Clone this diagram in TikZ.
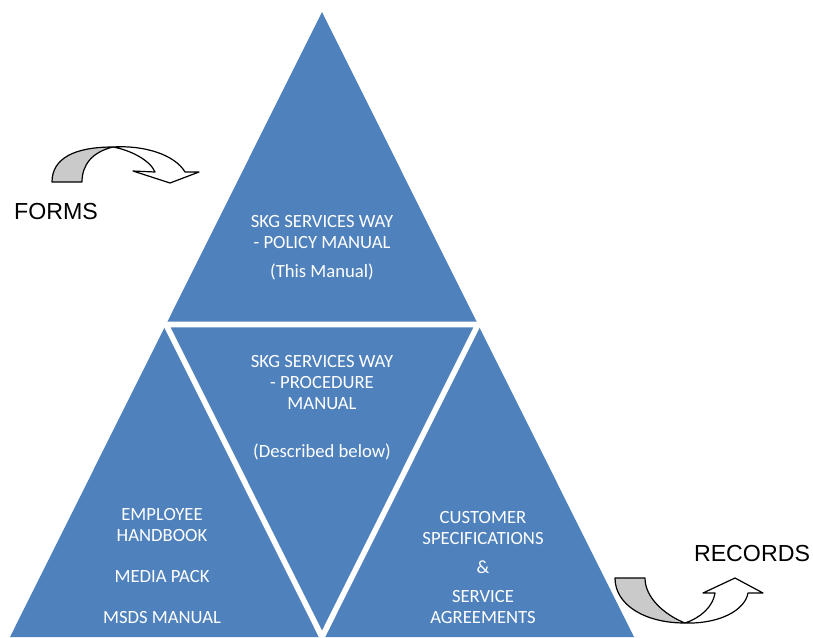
\documentclass[tikz,border=0pt]{standalone}
\usepackage{fontspec}
\setmainfont{Carlito}
\newfontfamily\labelfont{Liberation Sans}
\usetikzlibrary{calc}
\definecolor{triblue}{HTML}{4F81BD}
\definecolor{ribbongray}{HTML}{CACACA}
\begin{document}
\begin{tikzpicture}[x=0.75pt,y=-0.75pt,
  tritext/.style={text=white, align=center, inner sep=0pt,
    font=\fontsize{14}{15.75}\selectfont},
  sidelabel/.style={text=black, inner sep=0pt,
    font=\labelfont\fontsize{17.4}{20}\selectfont},
  ribbon/.style={draw=black, line width=0.9pt, line join=round}]
\useasboundingbox (0,0) rectangle (813,637);

% outer triangle and its subdivision
\coordinate (apex) at (322,12);
\coordinate (bl) at (10,637);
\coordinate (br) at (634,637);
\coordinate (ml) at ($(apex)!0.5!(bl)$);
\coordinate (mr) at ($(apex)!0.5!(br)$);
\coordinate (mb) at ($(bl)!0.5!(br)$);
\fill[triblue] (apex) -- (bl) -- (br) -- cycle;
\draw[white, line width=4.2pt, line join=miter] (ml) -- (mr) -- (mb) -- cycle;

% texts inside the four triangles
\node[tritext] (toptext) at (322,247.5)
  {SKG SERVICES WAY\\- POLICY MANUAL\\[6pt](This Manual)};
\node[tritext] (midtext) at (322,407.5)
  {SKG SERVICES WAY\\- PROCEDURE\\MANUAL\\[20pt](Described below)};
\node[tritext] (lefttext) at (162,566)
  {EMPLOYEE\\HANDBOOK\\[15pt]MEDIA PACK\\[15pt]MSDS MANUAL};
\node[tritext] (righttext) at (483,567)
  {CUSTOMER\\SPECIFICATIONS\\[6pt]\&\\[6pt]SERVICE\\AGREEMENTS};

% curved arrow beside FORMS
\filldraw[ribbon, fill=ribbongray]
  (52,182) .. controls (52,158) and (75,147) .. (113,147)
  .. controls (92,152) and (82,165) .. (82,182) -- cycle;
\filldraw[ribbon, fill=white]
  (113,147) .. controls (145,145) and (175,155) .. (185,172)
  -- (199,172) -- (170,183) -- (133,171) -- (155,172)
  .. controls (150,160) and (130,150) .. (113,147) -- cycle;
\node[sidelabel] (forms) at (56,212) {FORMS};

% curved arrow beside RECORDS
\filldraw[ribbon, fill=ribbongray]
  (615,578) -- (645,578)
  .. controls (645,598) and (665,615) .. (685,623)
  .. controls (645,623) and (615,605) .. (615,578) -- cycle;
\filldraw[ribbon, fill=white]
  (685,623) .. controls (720,624) and (745,610) .. (748,593)
  -- (763,593) -- (735,578) -- (703,593) -- (715,593)
  .. controls (713,607) and (700,618) .. (685,623) -- cycle;
\node[sidelabel] (records) at (752,553) {RECORDS};
\end{tikzpicture}
\end{document}
